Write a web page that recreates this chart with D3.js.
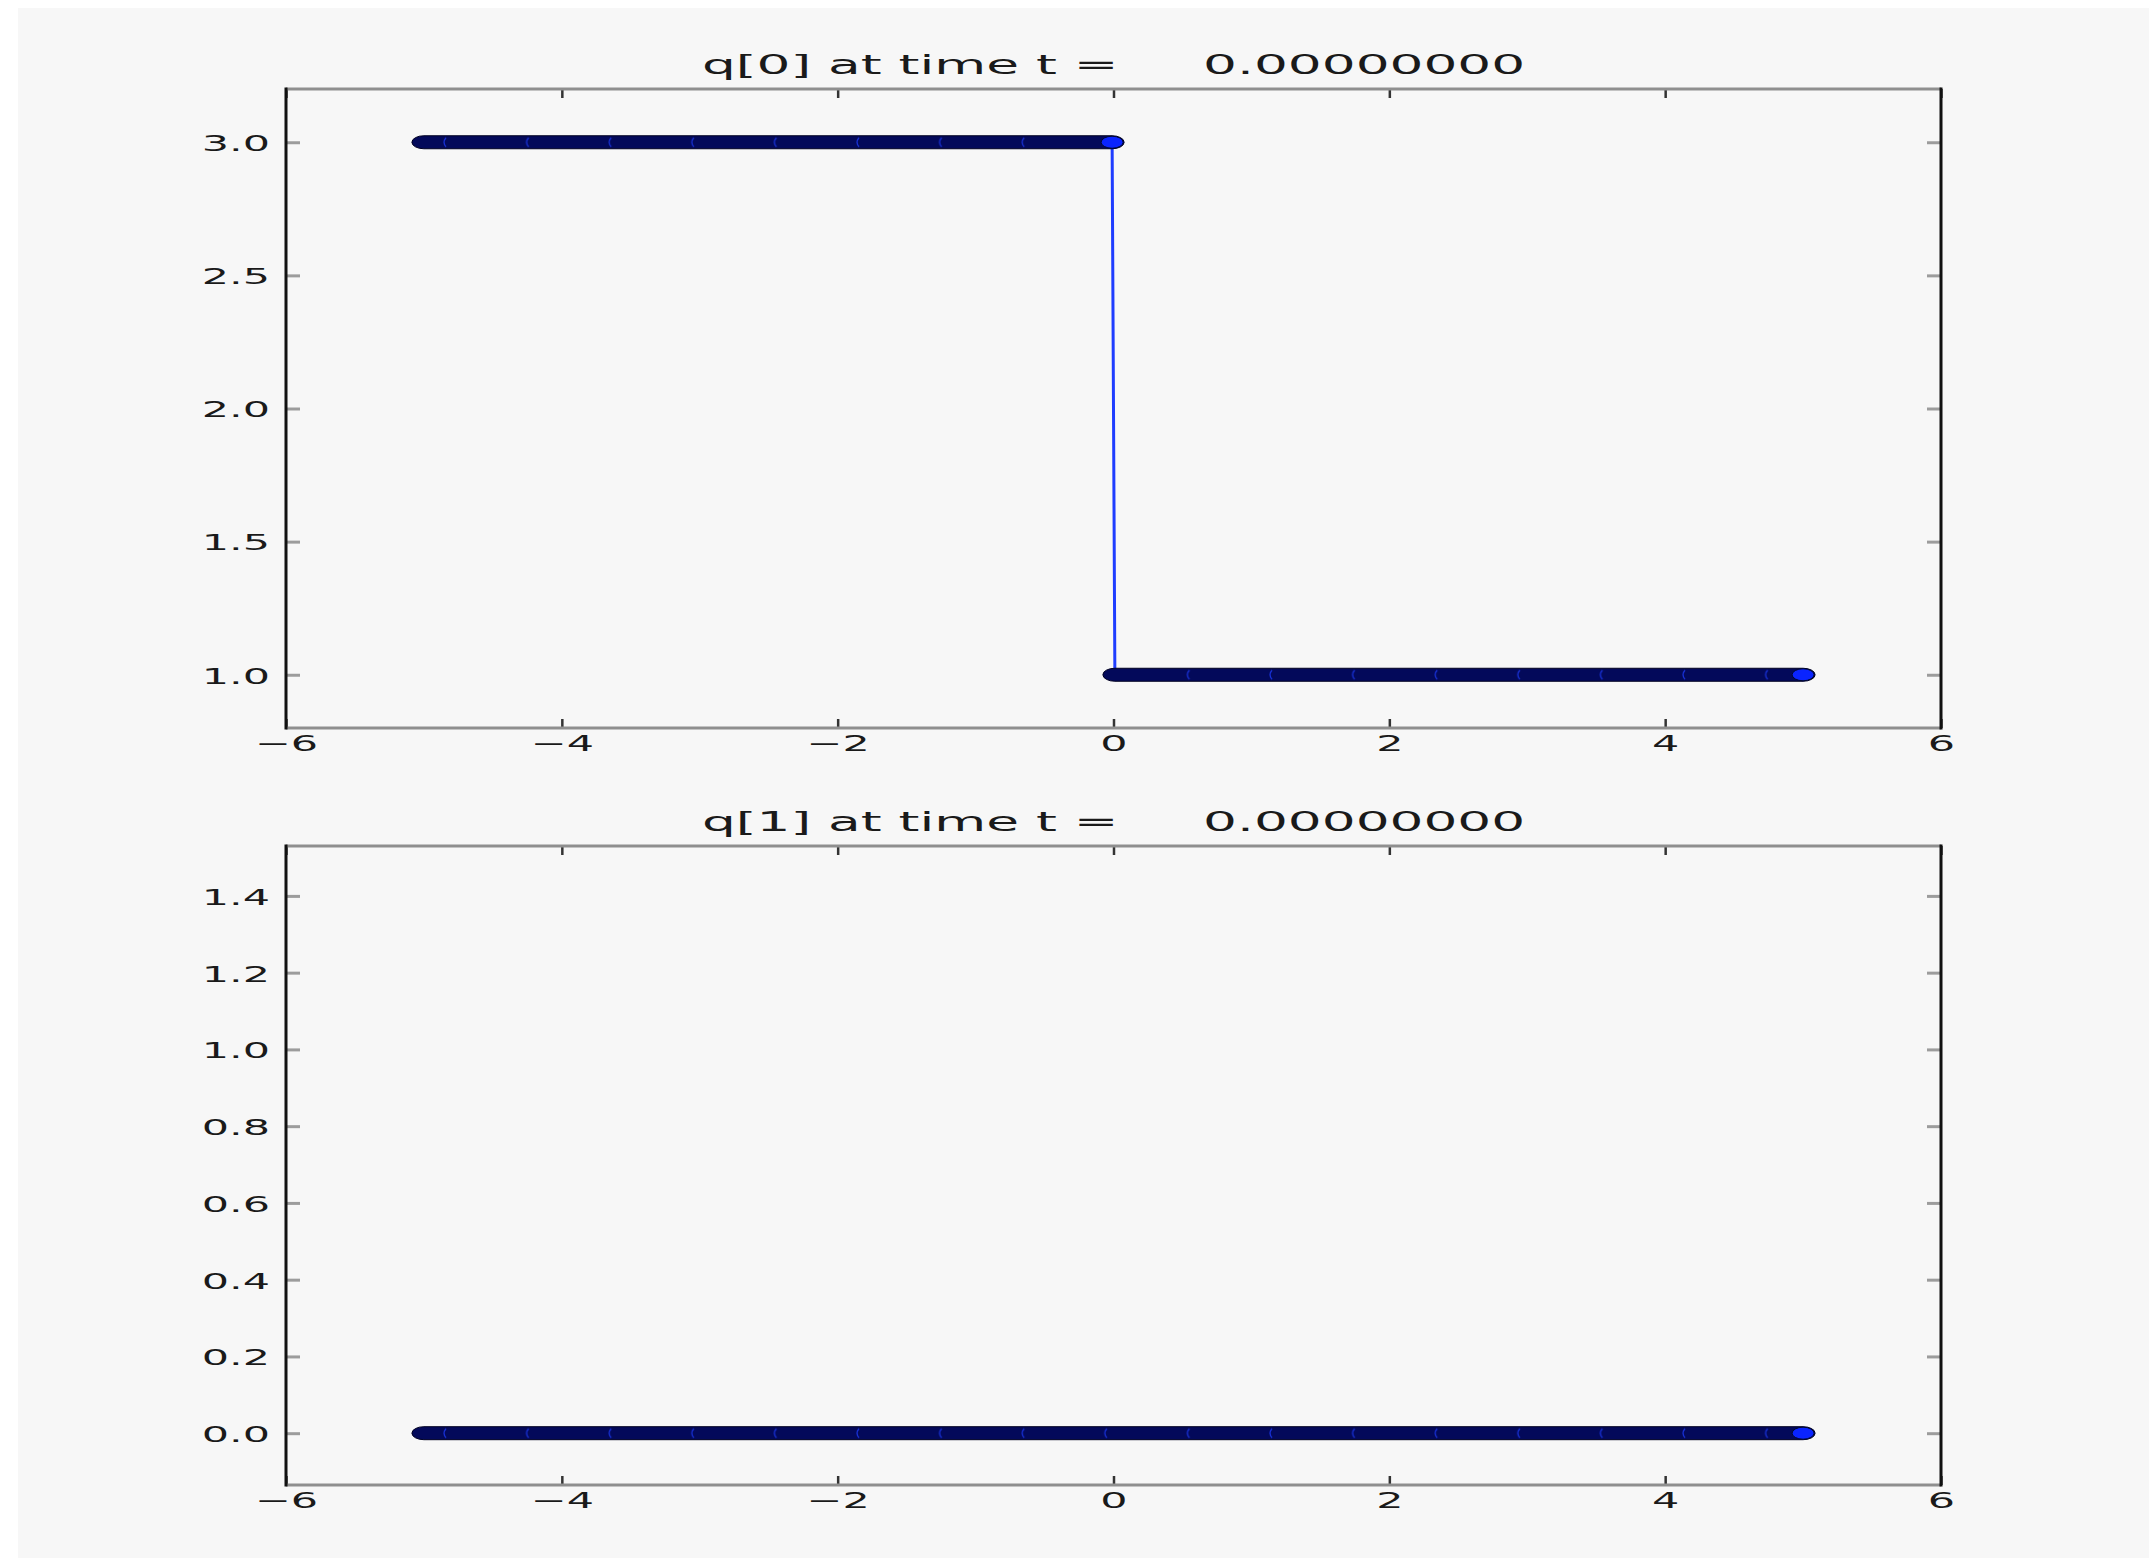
<!DOCTYPE html>
<html>
<head>
<meta charset="utf-8">
<script src="https://cdn.jsdelivr.net/npm/d3@7"></script>
<style>
    body { margin: 0; background: #ffffff; }
    text { font-family: "DejaVu Sans", sans-serif; fill: #1a1a1a; white-space: pre; }
</style>
</head>
<body>
<div id="chart"></div>
<script>
// --- data ---
const xTicks = [-6, -4, -2, 0, 2, 4, 6];
const q0Ticks = [1.0, 1.5, 2.0, 2.5, 3.0];
const q1Ticks = [0.0, 0.2, 0.4, 0.6, 0.8, 1.0, 1.2, 1.4];
const q0Domain = [0.8, 3.2];
const q1Domain = [-0.135, 1.53];

// step data (x, value) for each component
const q0X = [-5, -0.01, 0.01, 5];
const q0Y = [3, 3, 1, 1];
const q1X = [-5, 5];
const q1Y = [0, 0];
const frameTime = 0.0;

const W = 2149, H = 1558;
const left = 286, right = 1941, plotH = 639;
const sx = 1.95;        // picture is stretched horizontally
const tickFont = 22, titleFont = 26;

const svg = d3.select("#chart").append("svg")
    .attr("width", W)
    .attr("height", H);

svg.append("rect")
    .attr("x", 18).attr("y", 8)
    .attr("width", W - 18).attr("height", H - 8)
    .attr("fill", "#f7f7f7");

const defs = svg.append("defs");

function drawPanel(idx, top, yDomain, yTicks, xs, ys) {
    const bottom = top + plotH;
    const x = d3.scaleLinear().domain([-6, 6]).range([left, right]);
    const y = d3.scaleLinear().domain(yDomain).range([bottom, top]);
    const g = svg.append("g");

    // data first, frame on top
    const pts = xs.map((d, i) => ({ x: d, y: ys[i] }));
    const line = d3.line().x(d => x(d.x)).y(d => y(d.y));
    g.append("path")
        .datum(pts)
        .attr("d", line)
        .attr("fill", "none")
        .attr("stroke", "#1f3dff")
        .attr("stroke-width", 3);

    // group consecutive points with the same value into runs of markers
    const runs = [];
    pts.forEach(p => {
        const last = runs[runs.length - 1];
        if (last && last.v === p.y) last.x1 = p.x;
        else runs.push({ v: p.y, x0: p.x, x1: p.x });
    });

    runs.forEach((r, j) => {
        const bx = x(r.x0) - 12, bw = x(r.x1) - x(r.x0) + 24, by = y(r.v) - 6.5;
        g.append("rect")
            .attr("x", bx).attr("y", by)
            .attr("width", bw).attr("height", 13)
            .attr("rx", 12).attr("ry", 6.5)
            .attr("fill", "#03095a")
            .attr("stroke", "#000022")
            .attr("stroke-width", 1);

        const pid = `arcs${idx}_${j}`;
        const pat = defs.append("pattern")
            .attr("id", pid)
            .attr("patternUnits", "userSpaceOnUse")
            .attr("x", 442).attr("y", by)
            .attr("width", 82.6).attr("height", 13);
        pat.append("path")
            .attr("d", "M4,2 Q0,6.5 4,11")
            .attr("fill", "none")
            .attr("stroke", "#1d3cff")
            .attr("stroke-opacity", 0.8)
            .attr("stroke-width", 1.2);
        g.append("rect")
            .attr("x", bx + 14).attr("y", by)
            .attr("width", Math.max(0, bw - 28)).attr("height", 13)
            .attr("fill", `url(#${pid})`);

        g.append("ellipse")
            .attr("cx", x(r.x1)).attr("cy", y(r.v))
            .attr("rx", 11).attr("ry", 6)
            .attr("fill", "#0a24ff")
            .attr("stroke", "#000833")
            .attr("stroke-width", 1);
    });

    // axes (ticks pointing inward on all four sides)
    const xb = g.append("g")
        .attr("transform", `translate(0,${bottom})`)
        .call(d3.axisBottom(x).tickValues(xTicks).tickSizeInner(-9).tickSizeOuter(0).tickPadding(7.5));
    const xt = g.append("g")
        .attr("transform", `translate(0,${top})`)
        .call(d3.axisTop(x).tickValues(xTicks).tickSizeInner(-9).tickSizeOuter(0).tickFormat(""));
    const yl = g.append("g")
        .attr("transform", `translate(${left},0)`)
        .call(d3.axisLeft(y).tickValues(yTicks).tickSizeInner(-14).tickSizeOuter(0)
            .tickFormat(d3.format(".1f")));
    const yr = g.append("g")
        .attr("transform", `translate(${right},0)`)
        .call(d3.axisRight(y).tickValues(yTicks).tickSizeInner(-14).tickSizeOuter(0).tickFormat(""));

    [xb, xt, yl, yr].forEach(a => {
        a.select(".domain").remove();
        a.attr("font-family", null).attr("font-size", null);
    });
    [xb, xt].forEach(a => a.selectAll(".tick line").attr("stroke", "#333").attr("stroke-width", 2.5));
    [yl, yr].forEach(a => a.selectAll(".tick line").attr("stroke", "#9c9c9c").attr("stroke-width", 3));

    xb.selectAll(".tick text")
        .style("font-size", tickFont + "px")
        .attr("transform", `scale(${sx},1)`);
    yl.selectAll(".tick text")
        .style("font-size", tickFont + "px")
        .attr("x", -16 / sx)
        .attr("dy", "0.38em")
        .attr("transform", `scale(${sx},1)`);

    // frame
    g.append("line").attr("x1", left).attr("x2", right).attr("y1", top).attr("y2", top)
        .attr("stroke", "#8f8f8f").attr("stroke-width", 3);
    g.append("line").attr("x1", left).attr("x2", right).attr("y1", bottom).attr("y2", bottom)
        .attr("stroke", "#8f8f8f").attr("stroke-width", 3);
    g.append("line").attr("x1", left).attr("x2", left).attr("y1", top - 1.5).attr("y2", bottom + 1.5)
        .attr("stroke", "#111").attr("stroke-width", 3);
    g.append("line").attr("x1", right).attr("x2", right).attr("y1", top - 1.5).attr("y2", bottom + 1.5)
        .attr("stroke", "#111").attr("stroke-width", 3);

    // title
    g.append("text")
        .attr("transform", `translate(${(left + right) / 2},${top - 15}) scale(${sx + 0.1},1)`)
        .attr("text-anchor", "middle")
        .style("font-size", titleFont + "px")
        .text(`q[${idx}] at time t = ${d3.format("14.8f")(frameTime)}`);
}

drawPanel(0, 89, q0Domain, q0Ticks, q0X, q0Y);
drawPanel(1, 846, q1Domain, q1Ticks, q1X, q1Y);
</script>
</body>
</html>
